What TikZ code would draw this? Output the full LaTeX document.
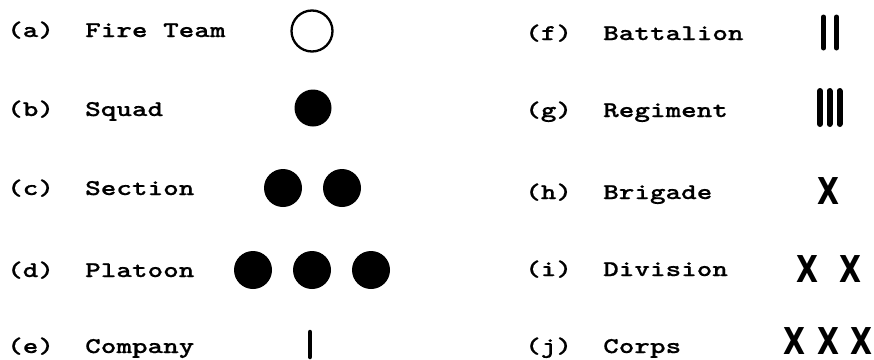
\documentclass[tikz,border=0pt]{standalone}
\usepackage{fontspec}
\newfontfamily\tfont[FakeStretch=1.32,FakeBold=0.6]{lmmonolt10-bold.otf}
\newfontfamily\xfont{DejaVu Sans}
\begin{document}
\begin{tikzpicture}[x=1pt,y=-1pt,
  lbl/.style={anchor=base west,inner sep=0pt,font=\fontsize{22.5}{22.5}\selectfont\tfont},
  dotf/.style={circle,fill=black,inner sep=0pt,minimum size=#1},
  bar/.style={line width=#1,line cap=round},
  xsym/.style={inner sep=0pt,font=\fontsize{37}{37}\selectfont\xfont\bfseries}]
\useasboundingbox (0,0) rectangle (874,359);
% left column (baseline = row centre + 7)
\node[lbl] (la) at (7,37)  {(a)}; \node[lbl] (na) at (85,37)  {Fire Team};
\node[lbl] (lb) at (7,116) {(b)}; \node[lbl] (nb) at (85,116) {Squad};
\node[lbl] (lc) at (7,195) {(c)}; \node[lbl] (nc) at (85,195) {Section};
\node[lbl] (ld) at (7,277) {(d)}; \node[lbl] (nd) at (85,277) {Platoon};
\node[lbl] (le) at (7,353) {(e)}; \node[lbl] (ne) at (85,353) {Company};
\node[circle,draw=black,line width=2.3pt,inner sep=0pt,minimum size=41pt] (sa) at (312,31) {};
\node[dotf=37pt] (sb) at (313,108) {};
\node[dotf=38pt] (sc1) at (283,188) {};
\node[dotf=38pt] (sc2) at (342,188) {};
\node[dotf=38pt] (sd1) at (253,270) {};
\node[dotf=38pt] (sd2) at (312,270) {};
\node[dotf=38pt] (sd3) at (371,270) {};
\coordinate (e1) at (310,332); \coordinate (e2) at (310,357);
\draw[bar=4.5pt] (e1) -- (e2);
% right column
\node[lbl] (lf) at (525,40)  {(f)}; \node[lbl] (nf) at (603,40)  {Battalion};
\node[lbl] (lg) at (525,117) {(g)}; \node[lbl] (ng) at (603,117) {Regiment};
\node[lbl] (lh) at (525,199) {(h)}; \node[lbl] (nh) at (603,199) {Brigade};
\node[lbl] (li) at (525,276) {(i)}; \node[lbl] (ni) at (603,276) {Division};
\node[lbl] (lj) at (525,353) {(j)}; \node[lbl] (nj) at (603,353) {Corps};
\coordinate (f1a) at (823.5,17); \coordinate (f1b) at (823.5,48);
\coordinate (f2a) at (836.5,17); \coordinate (f2b) at (836.5,48);
\draw[bar=5pt] (f1a) -- (f1b); \draw[bar=5pt] (f2a) -- (f2b);
\coordinate (g1a) at (820,91); \coordinate (g1b) at (820,124);
\coordinate (g2a) at (829.5,91); \coordinate (g2b) at (829.5,124);
\coordinate (g3a) at (839.5,91); \coordinate (g3b) at (839.5,124);
\draw[bar=6pt] (g1a) -- (g1b); \draw[bar=6pt] (g2a) -- (g2b); \draw[bar=6pt] (g3a) -- (g3b);
\node[xsym] (xh) at (828,191) {\scalebox{0.77}[1]{X}};
\node[xsym] (xi1) at (807.5,269) {\scalebox{0.77}[1]{X}};
\node[xsym] (xi2) at (850,269) {\scalebox{0.77}[1]{X}};
\node[xsym] (xj1) at (794,341) {\scalebox{0.77}[1]{X}};
\node[xsym] (xj2) at (828,341) {\scalebox{0.77}[1]{X}};
\node[xsym] (xj3) at (861,341) {\scalebox{0.77}[1]{X}};
\end{tikzpicture}
\end{document}
